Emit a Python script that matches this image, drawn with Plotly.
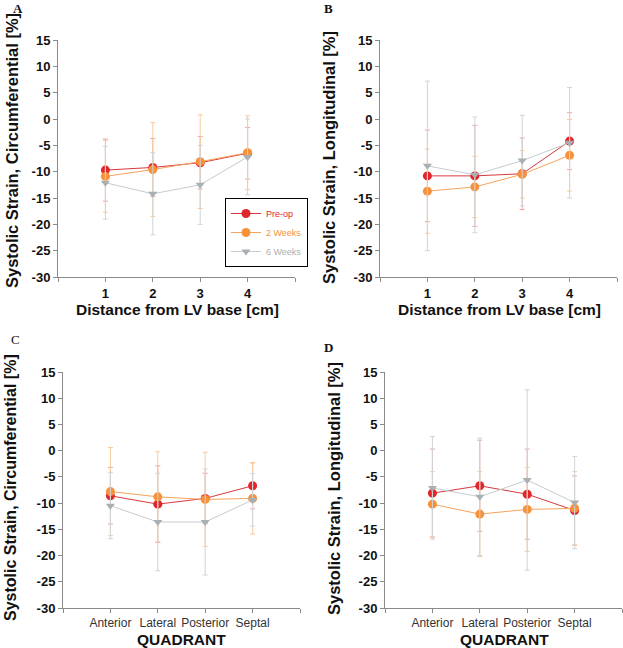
import plotly.graph_objects as go

# ---------------- data ----------------
distance = [1, 2, 3, 4]
quadrants = ["Anterior", "Lateral", "Posterior", "Septal"]
series_names = ["Pre-op", "2 Weeks", "6 Weeks"]

# Panel A: circumferential strain vs distance
preop_A = [-9.7, -9.2, -8.3, -6.5]
preop_A_sd = [5.9, 5.5, 5.0, 4.9]
wk2_A = [-10.9, -9.6, -8.1, -6.4]
wk2_A_sd = [6.8, 8.9, 8.9, 7.0]
wk6_A = [-12.1, -14.2, -12.5, -7.2]
wk6_A_sd = [6.9, 7.8, 7.5, 7.2]

# Panel B: longitudinal strain vs distance
preop_B = [-10.8, -10.8, -10.4, -4.2]
preop_B_sd = [8.7, 9.6, 6.8, 5.4]
wk2_B = [-13.7, -12.9, -10.5, -6.9]
wk2_B_sd = [8.0, 5.8, 4.5, 6.8]
wk6_B = [-8.9, -10.6, -7.9, -4.5]
wk6_B_sd = [16.1, 11.0, 8.6, 10.5]

# Panel C: circumferential strain by quadrant
preop_C = [-8.6, -10.2, -9.1, -6.7]
preop_C_sd = [5.4, 7.3, 4.8, 4.4]
wk2_C = [-7.8, -8.8, -9.3, -9.1]
wk2_C_sd = [8.4, 8.6, 9.0, 6.8]
wk6_C = [-10.5, -13.6, -13.6, -9.4]
wk6_C_sd = [6.3, 9.3, 10.1, 5.0]

# Panel D: longitudinal strain by quadrant
preop_D = [-8.1, -6.7, -8.3, -11.4]
preop_D_sd = [8.4, 8.7, 8.6, 6.6]
wk2_D = [-10.2, -12.1, -11.2, -11.0]
wk2_D_sd = [6.2, 8.1, 8.0, 7.0]
wk6_D = [-7.1, -8.8, -5.6, -9.9]
wk6_D_sd = [9.8, 11.2, 17.2, 8.8]

y_ticks = [15, 10, 5, 0, -5, -10, -15, -20, -25, -30]

# ---------------- styles ----------------
W, H = 623, 648
marker_col = ["#e0262b", "#f7923a", "#a8b0b4"]
line_col = ["#d8383c", "#f3a45c", "#c6cbce"]
err_col = ["#eba4a4", "#f7cc9c", "#d0d4d7"]
symbols = ["circle", "circle", "triangle-down"]
msize = [9, 9, 8]

SANS = "Liberation Sans, Arial, sans-serif"
SERIF = "Liberation Serif, Times New Roman, serif"

fig = go.Figure()

panels = [
    ("x", "y", distance, [preop_A, wk2_A, wk6_A], [preop_A_sd, wk2_A_sd, wk6_A_sd], True),
    ("x2", "y2", distance, [preop_B, wk2_B, wk6_B], [preop_B_sd, wk2_B_sd, wk6_B_sd], False),
    ("x3", "y3", list(range(len(quadrants))), [preop_C, wk2_C, wk6_C], [preop_C_sd, wk2_C_sd, wk6_C_sd], False),
    ("x4", "y4", list(range(len(quadrants))), [preop_D, wk2_D, wk6_D], [preop_D_sd, wk2_D_sd, wk6_D_sd], False),
]

for xa, ya, xs, ys_list, sd_list, show in panels:
    for i, (ys, sds) in enumerate(zip(ys_list, sd_list)):
        fig.add_trace(go.Scatter(
            x=xs, y=ys, xaxis=xa, yaxis=ya, mode="lines+markers",
            name=f"<span style='color:{marker_col[i]}'>{series_names[i]}</span>",
            showlegend=show,
            line=dict(color=line_col[i], width=1),
            marker=dict(color=marker_col[i], size=msize[i], symbol=symbols[i], line=dict(width=0)),
            error_y=dict(type="data", array=sds, visible=True, color=err_col[i], thickness=1, width=2.5),
        ))

def px_x(p):
    return p / W

def px_y(p):
    return 1 - p / H

axis_common = dict(showline=True, linecolor="#8a8a8a", linewidth=1, ticks="outside",
                   ticklen=4, tickcolor="#8a8a8a", tickwidth=1, showgrid=False, zeroline=False,
                   mirror=False, automargin=False)
ytick_font = dict(family=SANS, size=13, color="#111111")

# domains (px)
domA = ([58, 295], [40, 277])
domB = ([380, 617], [40, 277])
domC = ([63, 300], [372, 608])
domD = ([385, 622], [372, 608])

def dom(d):
    (x0, x1), (yt, yb) = d
    return [px_x(x0), px_x(x1)], [px_y(yb), px_y(yt)]

for k, d, cat in [("", domA, False), ("2", domB, False), ("3", domC, True), ("4", domD, True)]:
    xd, yd = dom(d)
    if cat:
        tv = [-1] + list(range(len(quadrants))) + [len(quadrants)]
        tt = [""] + quadrants + [""]
        xfont = dict(family=SANS, size=12, color="#333333")
        xr = [-1, len(quadrants)]
    else:
        tv = [0] + distance + [5]
        tt = [""] + [f"<b>{v}</b>" for v in distance] + [""]
        xfont = dict(family=SANS, size=13, color="#111111")
        xr = [0, 5]
    fig.update_layout(**{
        f"xaxis{k}": dict(domain=xd, anchor=f"y{k}", range=xr, tickvals=tv, ticktext=tt,
                          tickfont=xfont, **axis_common),
        f"yaxis{k}": dict(domain=yd, anchor=f"x{k}", range=[-30, 15], tickvals=y_ticks,
                          ticktext=[f"<b>{v}</b>" for v in y_ticks],
                          tickfont=ytick_font, **axis_common),
    })

annotations = []
def ann(text, x, y, size, family=SANS, bold=True, angle=0, xanchor="center", color="#111111"):
    f = dict(family=family, size=size, color=color)
    t = f"<b>{text}</b>" if bold else text
    annotations.append(dict(text=t, xref="paper", yref="paper", x=px_x(x), y=px_y(y),
                            xanchor=xanchor, yanchor="middle", showarrow=False, textangle=angle,
                            font=f))

# panel letters
ann("A", 11, 8, 13, SERIF, True, xanchor="left")
ann("B", 322, 8, 13, SERIF, True, xanchor="left")
ann("C", 9, 339, 13, SERIF, False, xanchor="left")
ann("D", 322, 347, 13, SERIF, True, xanchor="left")

# y-axis titles
ann("Systolic Strain, Circumferential [%]", 12, 151, 16.5, angle=-90)
ann("Systolic Strain, Longitudinal [%]", 329, 158, 16.5, angle=-90)
ann("Systolic Strain, Circumferential [%]", 10, 488, 16, angle=-90)
ann("Systolic Strain, Longitudinal [%]", 334, 489, 16.5, angle=-90)

# x-axis titles
ann("Distance from LV base [cm]", 177, 309, 15.5)
ann("Distance from LV base [cm]", 499, 309, 15.5)
ann("QUADRANT", 181, 639, 15.5)
ann("QUADRANT", 504, 639, 15.5)

# legend drop shadow
shapes = [dict(type="rect", xref="paper", yref="paper",
               x0=px_x(228), x1=px_x(308), y0=px_y(267), y1=px_y(201),
               fillcolor="#000000", line=dict(width=0), layer="above")]

fig.update_layout(
    width=W, height=H, margin=dict(l=0, r=0, t=0, b=0, autoexpand=False),
    paper_bgcolor="white", plot_bgcolor="white",
    annotations=annotations,
    shapes=shapes,
    showlegend=True,
    legend=dict(x=px_x(225), y=px_y(198), xanchor="left", yanchor="top",
                bgcolor="white", bordercolor="#000000", borderwidth=1,
                font=dict(family=SANS, size=9), itemwidth=30, tracegroupgap=0,
                traceorder="normal"),
)

fig.write_html("out.html", config={"displayModeBar": False},
               post_script="document.body.style.margin='0';document.body.style.overflow='hidden';")
